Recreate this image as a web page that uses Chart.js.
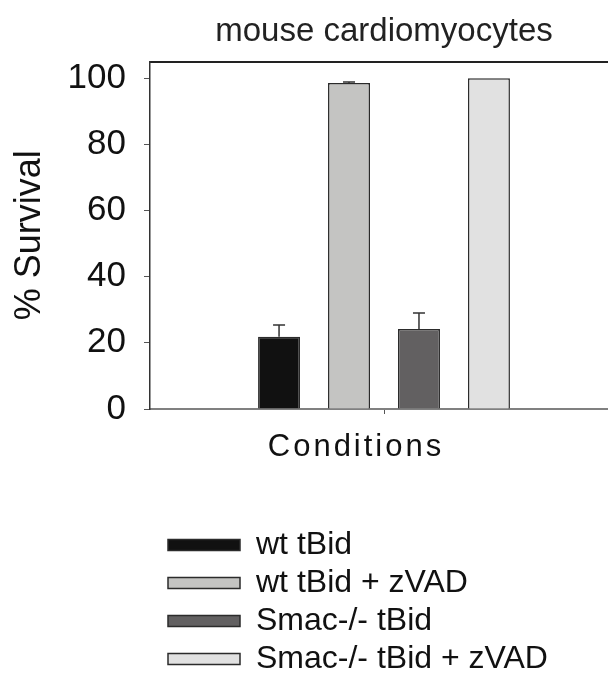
<!DOCTYPE html>
<html>
<head>
<meta charset="utf-8">
<script src="https://cdn.jsdelivr.net/npm/chart.js@4.4.1/dist/chart.umd.min.js"></script>
<style>
   html, body { margin: 0; padding: 0; background: #fff; overflow: hidden; }
   canvas { display: block; }
</style>
</head>
<body>
<canvas id="myChart" width="640" height="685"></canvas>
<script>
const categories = [''];
const seriesNames = ['wt tBid', 'wt tBid + zVAD', 'Smac-/- tBid', 'Smac-/- tBid + zVAD'];
const survival = [21.8, 98.5, 24.2, 100];
const survivalErr = [3.6, 0.3, 4.8, 0];
const yTicks = [0, 20, 40, 60, 80, 100];
const barColors = ['#111111', '#c4c4c2', '#626061', '#e1e1e1'];

Chart.defaults.font.family = "'Liberation Sans', Arial, sans-serif";
Chart.defaults.color = '#111';

// error bars (upper whisker only)
const errorBars = {
   id: 'errorBars',
   afterDatasetsDraw(chart) {
      const { ctx, scales: { y } } = chart;
      ctx.save();
      ctx.strokeStyle = '#333';
      ctx.lineWidth = 1.5;
      chart.data.datasets.forEach((ds, i) => {
         const e = survivalErr[i];
         if (!e) return;
         const bar = chart.getDatasetMeta(i).data[0];
         const top = y.getPixelForValue(survival[i] + e);
         ctx.beginPath();
         ctx.moveTo(bar.x, bar.y);
         ctx.lineTo(bar.x, top);
         ctx.moveTo(bar.x - 6, top);
         ctx.lineTo(bar.x + 6, top);
         ctx.stroke();
      });
      ctx.restore();
   }
};

// spaced-out letters for the x title, sitting a bit left of centre
const spacedTitle = {
   id: 'spacedTitle',
   beforeDraw(chart) {
      const s = chart.scales.x;
      if (s._spaced) return;
      const orig = s.drawTitle;
      s.drawTitle = function () {
         this.ctx.save();
         this.ctx.letterSpacing = '3px';
         this.ctx.translate(-28, 0);
         orig.call(this);
         this.ctx.restore();
      };
      s._spaced = true;
   }
};

// nudge the legend block to the right
const legendShift = {
   id: 'legendShift',
   afterLayout(chart) {
      chart.legend.left += 12;
      chart.legend.right += 12;
   }
};

const data = {
   labels: categories,
   datasets: seriesNames.map((name, i) => ({
      label: name,
      data: [survival[i]],
      backgroundColor: barColors[i],
      borderColor: '#2b2b2b',
      borderWidth: 1.5,
      categoryPercentage: 0.598,
      barPercentage: 0.6,
   }))
};

const config = {
   type: 'bar',
   data: data,
   options: {
      responsive: false,
      animation: false,
      layout: { padding: { left: 0, right: 22, top: 0, bottom: 0 } },
      scales: {
         x: {
            grid: { display: true, drawOnChartArea: false, drawTicks: true, tickLength: 5, color: '#555', offset: false },
            border: { color: '#808080', width: 2 },
            ticks: { padding: 0 },
            title: {
               display: true,
               text: 'Conditions',
               color: '#111',
               font: { size: 31 },
               padding: { top: 0, bottom: 57 }
            },
            afterFit: (s) => { s.height = 114; }
         },
         x2: {
            type: 'category',
            labels: categories,
            position: 'top',
            grid: { display: true, drawOnChartArea: false, drawTicks: false },
            border: { color: '#222', width: 2 },
            ticks: { display: false },
            afterFit: (s) => { s.height = 0; }
         },
         y: {
            min: 0,
            max: 105,
            afterBuildTicks: (s) => { s.ticks = yTicks.map(v => ({ value: v })); },
            ticks: { font: { size: 35 }, color: '#111', padding: 18 },
            grid: { drawOnChartArea: false, tickLength: 6, color: '#555' },
            border: { color: '#333', width: 1.5 },
            title: {
               display: true,
               text: '% Survival',
               color: '#111',
               font: { size: 36 },
               padding: { top: 8, bottom: 0 }
            },
            afterFit: (s) => { s.width = 150; }
         }
      },
      plugins: {
         title: {
            display: true,
            text: 'mouse cardiomyocytes',
            fullSize: false,
            color: '#222',
            font: { size: 33, weight: 'normal' },
            padding: { top: 12, bottom: 10 }
         },
         legend: {
            position: 'bottom',
            align: 'start',
            fullSize: false,
            labels: {
               boxWidth: 72,
               boxHeight: 11,
               padding: 6,
               color: '#111',
               font: { size: 32 }
            }
         },
         tooltip: { enabled: false }
      }
   },
   plugins: [errorBars, spacedTitle, legendShift]
};

const myChart = new Chart(document.getElementById('myChart'), config);
</script>
</body>
</html>
